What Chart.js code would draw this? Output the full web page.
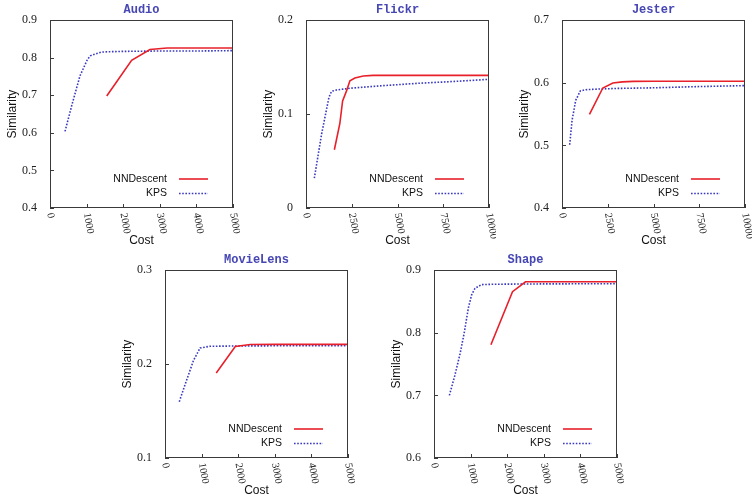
<!DOCTYPE html>
<html lang="en">
<head>
    <meta charset="UTF-8">
    <title>Similarity vs Cost</title>
    <script src="https://cdn.jsdelivr.net/npm/chart.js"></script>
    <style>
        body {
            margin: 0;
            background: #fff;
        }
        #wrap {
            position: relative;
            width: 753px;
            height: 500px;
            overflow: hidden;
        }
        #wrap canvas {
            position: absolute;
        }
    </style>
</head>
<body>
<div id="wrap">
    <canvas id="audio" width="240" height="250" style="left:0;top:0"></canvas>
    <canvas id="flickr" width="240" height="250" style="left:256px;top:0"></canvas>
    <canvas id="jester" width="240" height="250" style="left:512px;top:0"></canvas>
    <canvas id="movielens" width="240" height="250" style="left:115px;top:250px"></canvas>
    <canvas id="shape" width="240" height="250" style="left:384px;top:250px"></canvas>
</div>

<script>
    // Audio
    const audioNnCost = [1550, 2230, 2730, 3200, 4000, 5000];
    const audioNnSim = [0.698, 0.793, 0.822, 0.826, 0.826, 0.826];
    const audioKpsCost = [410, 600, 820, 1020, 1100, 1200, 1400, 1600, 2000, 3000, 4000, 5000];
    const audioKpsSim = [0.604, 0.675, 0.752, 0.795, 0.805, 0.809, 0.815, 0.816, 0.817, 0.818, 0.818, 0.819];

    // Flickr
    const flickrNnCost = [1550, 1850, 2000, 2220, 2400, 2670, 3130, 3670, 10000];
    const flickrNnSim = [0.062, 0.090, 0.114, 0.125, 0.1355, 0.1385, 0.1405, 0.1412, 0.1412];
    const flickrKpsCost = [455, 855, 1255, 1400, 1670, 2400, 4220, 6040, 7850, 10000];
    const flickrKpsSim = [0.0317, 0.079, 0.118, 0.1243, 0.1257, 0.1275, 0.1303, 0.1327, 0.1345, 0.137];

    // Jester
    const jesterNnCost = [1500, 2230, 2780, 3300, 3900, 5000, 10000];
    const jesterNnSim = [0.5495, 0.5917, 0.5996, 0.6015, 0.6023, 0.6025, 0.6025];
    const jesterKpsCost = [420, 550, 750, 1000, 1300, 2000, 3000, 5000, 7500, 10000];
    const jesterKpsSim = [0.501, 0.54, 0.572, 0.587, 0.589, 0.590, 0.591, 0.592, 0.594, 0.5955];

    // MovieLens
    const movieNnCost = [1400, 1920, 2330, 3000, 5000];
    const movieNnSim = [0.1905, 0.2187, 0.2208, 0.221, 0.221];
    const movieKpsCost = [390, 600, 780, 960, 1230, 2000, 3000, 5000];
    const movieKpsSim = [0.160, 0.184, 0.204, 0.2172, 0.219, 0.2193, 0.2195, 0.2197];

    // Shape
    const shapeNnCost = [1555, 2145, 2500, 3000, 5000];
    const shapeNnSim = [0.781, 0.8657, 0.8815, 0.8815, 0.8815];
    const shapeKpsCost = [420, 570, 710, 820, 940, 1030, 1120, 1300, 1600, 2500, 5000];
    const shapeKpsSim = [0.700, 0.732, 0.766, 0.798, 0.840, 0.861, 0.871, 0.877, 0.8775, 0.878, 0.8785];

    const seriesNames = ['NNDescent', 'KPS'];
    const seriesColors = ['#e8202a', '#3a3ac0'];
    const seriesDash = [[], [1.6, 1.6]];

    function toPoints(xs, ys) {
        return xs.map((x, i) => ({ x: x, y: ys[i] }));
    }

    // frame, inward ticks, rotated cost labels and the in-plot legend
    const framePlugin = {
        id: 'frame',
        afterDraw(chart) {
            const ctx = chart.ctx;
            const a = chart.chartArea;
            const xs = chart.scales.x;
            const ys = chart.scales.y;
            ctx.save();

            ctx.strokeStyle = '#3a3a3a';
            ctx.lineWidth = 1;
            ctx.beginPath();
            xs.ticks.forEach(t => {
                const px = Math.round(xs.getPixelForValue(t.value)) + 0.5;
                ctx.moveTo(px, a.bottom);
                ctx.lineTo(px, a.bottom - 4);
            });
            ys.ticks.forEach(t => {
                const py = Math.round(ys.getPixelForValue(t.value)) + 0.5;
                ctx.moveTo(a.left, py);
                ctx.lineTo(a.left + 4, py);
            });
            ctx.stroke();
            ctx.strokeRect(Math.round(a.left) + 0.5, Math.round(a.top) + 0.5,
                Math.round(a.width) - 1, Math.round(a.height) - 1);

            ctx.font = '10.5px "Liberation Serif"';
            ctx.fillStyle = '#222';
            ctx.textAlign = 'left';
            ctx.textBaseline = 'middle';
            xs.ticks.forEach(t => {
                ctx.save();
                ctx.translate(xs.getPixelForValue(t.value), a.bottom + 5);
                ctx.rotate(80 * Math.PI / 180);
                ctx.fillText(String(t.value), 0, 0);
                ctx.restore();
            });

            ctx.font = '10.5px "Liberation Sans"';
            ctx.textAlign = 'right';
            chart.data.datasets.forEach((ds, i) => {
                const ly = a.bottom - 29 + i * 14.5;
                ctx.fillStyle = '#111';
                ctx.fillText(ds.label, a.right - 66, ly);
                ctx.strokeStyle = ds.borderColor;
                ctx.lineWidth = ds.borderWidth;
                ctx.setLineDash(ds.borderDash);
                ctx.beginPath();
                ctx.moveTo(a.right - 54, ly);
                ctx.lineTo(a.right - 25, ly);
                ctx.stroke();
            });
            ctx.restore();
        }
    };

    function makeChart(id, title, nnX, nnY, kpsX, kpsY, xMax, xStep, yMin, yMax) {
        const ctx = document.getElementById(id).getContext('2d');
        const pairs = [[nnX, nnY], [kpsX, kpsY]];
        return new Chart(ctx, {
            type: 'line',
            data: {
                datasets: pairs.map((p, i) => ({
                    label: seriesNames[i],
                    data: toPoints(p[0], p[1]),
                    borderColor: seriesColors[i],
                    borderWidth: 1.6,
                    borderDash: seriesDash[i],
                    pointRadius: 0,
                    tension: 0,
                    fill: false
                }))
            },
            options: {
                responsive: false,
                animation: false,
                events: [],
                layout: {
                    padding: { left: 0, right: 7, top: 0, bottom: 0 }
                },
                plugins: {
                    legend: { display: false },
                    tooltip: { enabled: false },
                    title: {
                        display: true,
                        text: title,
                        fullSize: false,
                        color: '#4646b4',
                        font: { family: 'Liberation Mono', size: 12, weight: 'bold' },
                        padding: { top: 2, bottom: 3 }
                    }
                },
                scales: {
                    x: {
                        type: 'linear',
                        min: 0,
                        max: xMax,
                        ticks: { stepSize: xStep, display: false },
                        grid: { display: false, drawTicks: false },
                        border: { display: false },
                        title: {
                            display: true,
                            text: 'Cost',
                            color: '#111',
                            font: { family: 'Liberation Sans', size: 12 },
                            padding: { top: 0, bottom: 2 }
                        },
                        afterFit: s => { s.height = 42; }
                    },
                    y: {
                        min: yMin,
                        max: yMax,
                        ticks: {
                            stepSize: 0.1,
                            padding: 13,
                            color: '#222',
                            font: { family: 'Liberation Serif', size: 12 }
                        },
                        grid: { display: false, drawTicks: false },
                        border: { display: false },
                        title: {
                            display: true,
                            text: 'Similarity',
                            color: '#111',
                            font: { family: 'Liberation Sans', size: 12 },
                            padding: { top: 5, bottom: 0 }
                        },
                        afterFit: s => { s.width = 50; }
                    }
                }
            },
            plugins: [framePlugin]
        });
    }

    makeChart('audio', 'Audio', audioNnCost, audioNnSim, audioKpsCost, audioKpsSim, 5000, 1000, 0.4, 0.9);
    makeChart('flickr', 'Flickr', flickrNnCost, flickrNnSim, flickrKpsCost, flickrKpsSim, 10000, 2500, 0, 0.2);
    makeChart('jester', 'Jester', jesterNnCost, jesterNnSim, jesterKpsCost, jesterKpsSim, 10000, 2500, 0.4, 0.7);
    makeChart('movielens', 'MovieLens', movieNnCost, movieNnSim, movieKpsCost, movieKpsSim, 5000, 1000, 0.1, 0.3);
    makeChart('shape', 'Shape', shapeNnCost, shapeNnSim, shapeKpsCost, shapeKpsSim, 5000, 1000, 0.6, 0.9);
</script>
</body>
</html>
